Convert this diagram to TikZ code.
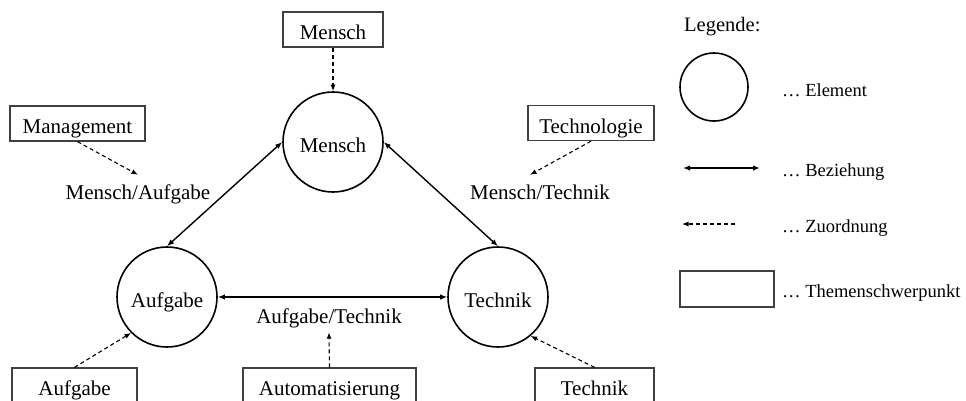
\documentclass[tikz,border=0pt]{standalone}
\usepackage{fontspec}
\setmainfont{Liberation Serif}
\usetikzlibrary{arrows.meta}
\begin{document}
\begin{tikzpicture}[x=1pt,y=-1pt,
    txt/.style={font=\fontsize{21}{25}\selectfont,text height=20pt,text depth=0pt},
    element/.style={txt,shape=circle,draw=black,line width=1.6pt,minimum size=100pt,inner sep=0pt},
    thema/.style={txt,shape=rectangle,draw=black!75,line width=1.3pt,minimum height=35pt,inner sep=0pt},
    paar/.style={font=\fontsize{21}{25}\selectfont,text height=20pt,text depth=5pt,inner xsep=2pt,inner ysep=4pt},
    legtext/.style={anchor=base west,inner sep=0pt,font=\fontsize{18.5}{22}\selectfont},
    bez/.style={{Latex[length=7pt,width=5.5pt]}-{Latex[length=7pt,width=5.5pt]},line width=1.4pt},
    zuo/.style={-{Latex[length=6.5pt,width=5pt]},dash pattern=on 4pt off 3pt,line width=1.1pt}]
    \useasboundingbox (0,0) rectangle (966,400);

    \node[element] (mensch) at (333,142) {Mensch};
    \node[element] (aufgabe) at (167,297) {Aufgabe};
    \node[element] (technik) at (498,297) {Technik};

    \node[thema,minimum width=100pt] (tmensch) at (333,29.5) {Mensch};
    \node[thema,minimum width=135pt] (tmanagement) at (77.5,123.5) {Management};
    \node[thema,minimum width=126pt] (ttechnologie) at (591,123) {Technologie};
    \node[thema,minimum width=125pt] (taufgabe) at (74.5,385.5) {Aufgabe};
    \node[thema,minimum width=173pt] (tautomatisierung) at (329.5,385.5) {Automatisierung};
    \node[thema,minimum width=119pt] (ttechnik) at (594.5,385.5) {Technik};

    \node[paar] (ma) at (138,191.5) {Mensch/Aufgabe};
    \node[paar] (mt) at (540,191.5) {Mensch/Technik};
    \node[paar] (at) at (329,315.5) {Aufgabe/Technik};

    \path[bez] (mensch.west) edge (aufgabe.north);
    \path[bez] (mensch.east) edge (technik.north);
    \path[bez] (aufgabe.east) edge (technik.west);

    \path[zuo] (tmensch.south) edge (mensch.north);
    \path[zuo] (tmanagement.south) edge (ma.north);
    \path[zuo] (ttechnologie.south) edge ([xshift=-10pt]mt.north);
    \path[zuo] (tautomatisierung.north) edge (at.south);
    \path[zuo] (taufgabe.north) edge (aufgabe.south west);
    \path[zuo] (ttechnik.north) edge (technik.-50);

    % legend
    \node[anchor=base west,inner sep=0pt,font=\fontsize{20.5}{24}\selectfont] (legende) at (684,31) {Legende:};
    \node[element,minimum size=68pt] (legkreis) at (714,87) {};
    \coordinate (bezl) at (683,168);
    \coordinate (bezr) at (760,168);
    \coordinate (zuol) at (682,224);
    \coordinate (zuor) at (735,224);
    \node[thema,minimum width=94pt,minimum height=36pt] (legbox) at (727,289) {};
    \path[bez] (bezl) edge (bezr);
    \path[zuo] (zuor) edge (zuol);

    \node[legtext] (legelement) at (782,96) {… Element};
    \node[legtext] (legbeziehung) at (782,176) {… Beziehung};
    \node[legtext] (legzuordnung) at (782,232) {… Zuordnung};
    \node[legtext] (legthema) at (782,297) {… Themenschwerpunkt};
\end{tikzpicture}
\end{document}
